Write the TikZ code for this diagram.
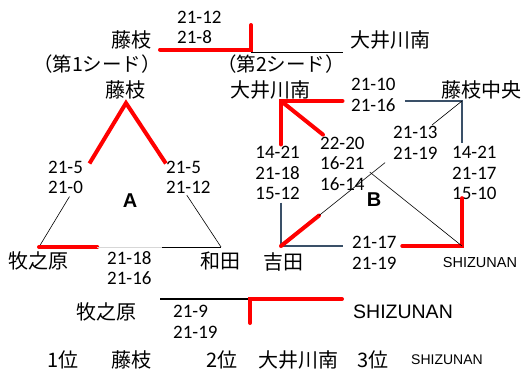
\documentclass[tikz,border=0pt]{standalone}
\usepackage{fontspec}
\setmainfont{Carlito}
\newfontfamily\jpfont{Noto Sans CJK JP}
\newfontfamily\arialfont{Liberation Sans}
\usetikzlibrary{calc}
\definecolor{slateline}{RGB}{58,80,104}
\definecolor{faintgray}{RGB}{215,215,215}

\begin{document}
\begin{tikzpicture}[x=1pt, y=-1pt,
    team/.style={font=\jpfont\fontsize{20}{24}\selectfont, inner sep=0pt},
    seed/.style={font=\jpfont\fontsize{19.5}{22}\selectfont, inner sep=0pt},
    score/.style={font=\fontsize{19}{20.5}\selectfont, align=left, anchor=west, inner sep=0pt},
    pool/.style={font=\arialfont\bfseries\fontsize{20}{24}\selectfont, inner sep=0pt},
    winline/.style={draw=red, line width=4pt, line cap=round},
    loseline/.style={draw=black, line width=1.8pt},
    hairline/.style={draw=black, line width=0.6pt},
    blueline/.style={draw=slateline, line width=1.6pt},
    faintline/.style={draw=faintgray, line width=1pt}]
  \useasboundingbox (0,0) rectangle (523,372);

  % final: seed 1 vs seed 2
  \node[team] (fuji) at (131,40) {藤枝};
  \node[team] (oiN) at (390,40) {大井川南};
  \node[score] (sTop) at (177,27.5) {21-12\\21-8};
  \coordinate (tL) at (160,49.5);
  \coordinate (tM) at (251,49.5);
  \coordinate (tUp) at (251,25);
  \coordinate (tR) at (343,52.5);
  \draw[winline] (tL) -- (tM) -- (tUp);
  \draw[loseline] (tM |- tR) -- (tR);

  \node[seed] (seedA) at (97,64) {（第1シード）};
  \node[seed] (seedB) at (281,64) {（第2シード）};

  % pool A
  \node[team] (fujiA) at (125,90) {藤枝};
  \node[team] (maki) at (39,261) {牧之原};
  \node[team] (wada) at (220,261) {和田};
  \node[pool] (labA) at (130,201) {A};
  \node[score] (sAL) at (48,177.5) {21-5\\21-0};
  \node[score] (sAR) at (166,177.5) {21-5\\21-12};
  \node[score] (sAB) at (107,268) {21-18\\21-16};
  \coordinate (A1) at (126,103);
  \coordinate (A2) at (39,247);
  \coordinate (A3) at (221,247);
  \draw[winline, line cap=butt] ($(A1)!0.42!(A2)$) -- (A1) -- ($(A1)!0.42!(A3)$);
  \draw[hairline] ($(A1)!0.65!(A2)$) -- (A2);
  \draw[hairline] ($(A1)!0.64!(A3)$) -- (A3);
  \draw[winline] (A2) -- ($(A2)!0.32!(A3)$);
  \draw[faintline] ($(A2)!0.32!(A3)$) -- ($(A2)!0.676!(A3)$);
  \draw[hairline] ($(A2)!0.676!(A3)$) -- (A3);

  % pool B
  \node[team] (oiNB) at (270,90) {大井川南};
  \node[team] (fujiC) at (481,90) {藤枝中央};
  \node[team] (yoshi) at (283,262) {吉田};
  \node[font=\arialfont\fontsize{14.5}{16}\selectfont, inner sep=0pt] (shizB) at (480,263) {SHIZUNAN};
  \node[pool] (labB) at (374,200) {B};
  \node[score] (sBT) at (351,95) {21-10\\21-16};
  \node[score, align=right, anchor=east] (sBL) at (300,173) {14-21\\21-18\\15-12};
  \node[score] (sBX) at (320,163.5) {22-20\\16-21\\16-14};
  \node[score] (sBY) at (393,143) {21-13\\21-19};
  \node[score] (sBR) at (452,173) {14-21\\21-17\\15-10};
  \node[score] (sBB) at (352,253) {21-17\\21-19};
  \coordinate (B1) at (281,101);
  \coordinate (B2) at (462,101);
  \coordinate (B3) at (281,246);
  \coordinate (B4) at (462,246);
  \draw[winline] ($(B1)!0.34!(B2)$) -- (B1) -- ($(B1)!0.30!(B3)$);
  \draw[winline] (B1) -- ($(B1)!0.232!(B4)$);
  \draw[blueline] ($(B1)!0.685!(B2)$) -- (B2) -- ($(B2)!0.29!(B4)$);
  \draw[hairline] (B2) -- ($(B2)!0.166!(B3)$);
  \draw[blueline] ($(B1)!0.70!(B3)$) -- (B3) -- ($(B3)!0.34!(B4)$);
  \draw[winline] ($(B3)!0.67!(B4)$) -- (B4) -- ($(B4)!0.33!(B2)$);
  \draw[hairline] (B4) -- ($(B4)!0.51!(B1)$);
  \draw[winline] (B3) -- ($(B3)!0.21!(B2)$);
  \draw[hairline] ($(B3)!0.21!(B2)$) -- ($(B3)!0.575!(B2)$);

  % third place
  \node[team] (makiF) at (106,312) {牧之原};
  \node[font=\arialfont\fontsize{19.5}{22}\selectfont, inner sep=0pt] (shizF) at (403,312) {SHIZUNAN};
  \node[score] (sLow) at (173,322) {21-9\\21-19};
  \coordinate (bL) at (160,299);
  \coordinate (bM) at (250,299);
  \coordinate (bDn) at (250,323);
  \coordinate (bR) at (342,299);
  \draw[loseline] (bL) -- (bM);
  \draw[winline] (bR) -- (bM) -- (bDn);

  % ranking
  \node[team] (rank1) at (63,360) {1位};
  \node[team] (rank1t) at (131,360) {藤枝};
  \node[team] (rank2) at (222,360) {2位};
  \node[team] (rank2t) at (298,360) {大井川南};
  \node[team] (rank3) at (373,360) {3位};
  \node[font=\arialfont\fontsize{14}{16}\selectfont, inner sep=0pt] (rank3t) at (447,360) {SHIZUNAN};
\end{tikzpicture}
\end{document}
